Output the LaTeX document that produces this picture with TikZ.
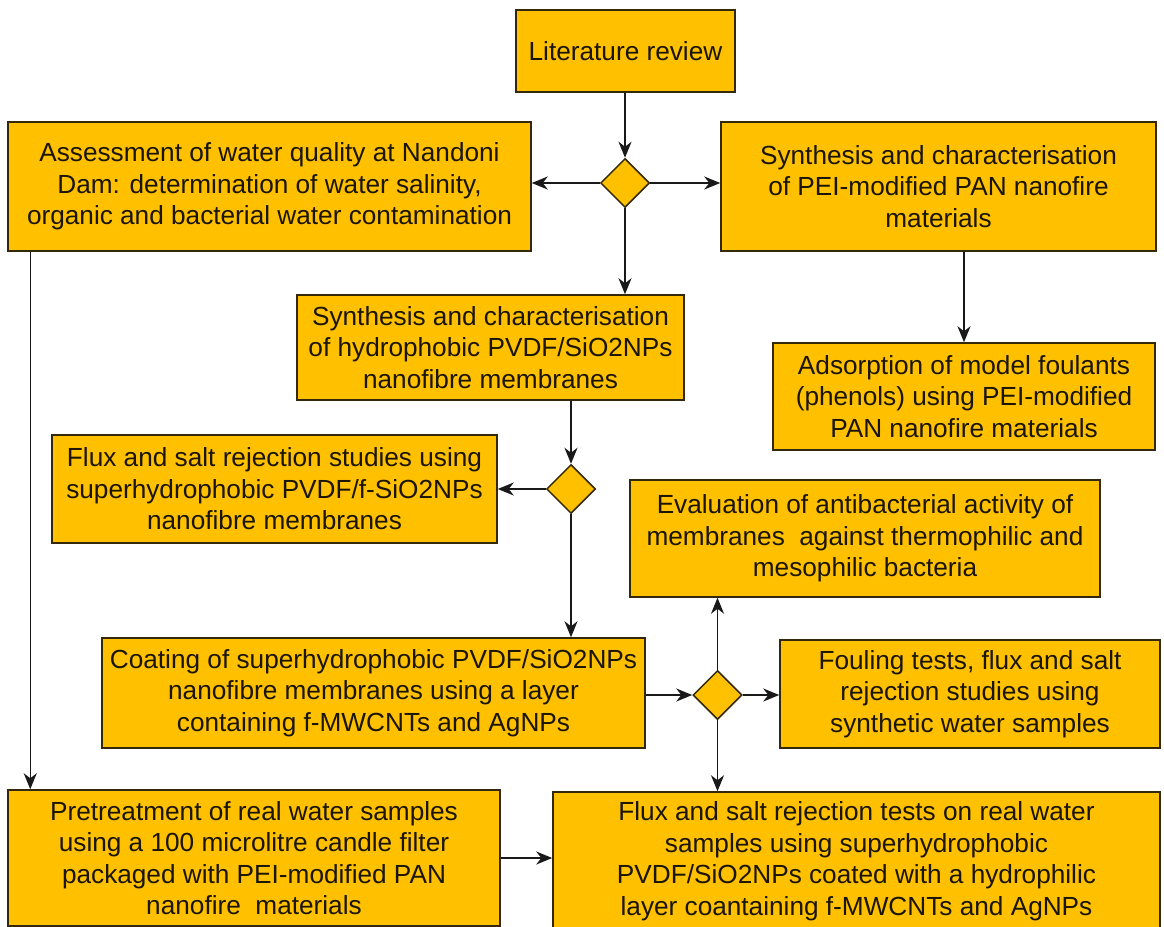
\documentclass[tikz,border=0pt]{standalone}
\usepackage{fontspec}
\setmainfont{Liberation Sans}
\usetikzlibrary{shapes.geometric,arrows.meta,calc}
\definecolor{boxfill}{HTML}{FFC000}
\definecolor{boxline}{HTML}{33290A}
\definecolor{txt}{HTML}{1A1505}
\tikzset{
  stepbox/.style={draw=boxline, line width=1.5pt, fill=boxfill, text=txt,
    align=center, inner sep=0pt,
    font=\fontsize{26.2pt}{31.5pt}\selectfont},
  decision/.style={draw=boxline, line width=1.5pt, fill=boxfill, diamond,
    minimum width=49pt, minimum height=49pt, inner sep=0pt, aspect=1},
  arr/.style={draw=black!90, line width=1.5pt, -{Stealth[length=16pt,width=13pt,inset=5pt]}},
}
\begin{document}
\begin{tikzpicture}[x=1pt,y=-1pt]
\useasboundingbox (0,0) rectangle (1164,926);
\clip (0,0) rectangle (1164,926);
\fill[white] (0,0) rectangle (1164,926);

\node[stepbox, minimum width=219pt, minimum height=82pt] (lit) at (625.5,51) {Literature review};
\node[decision] (d1) at (625,183) {};
\node[stepbox, minimum width=523pt, minimum height=129pt] (assess) at (269.5,186.5)
  {Assessment of water quality at Nandoni\\Dam: determination of water salinity,\\organic and bacterial water contamination};
\node[stepbox, minimum width=435pt, minimum height=129pt] (pei) at (938.5,186.5)
  {Synthesis and characterisation\\of PEI-modified PAN nanofire\\materials};
\node[stepbox, minimum width=387pt, minimum height=105pt] (pvdf) at (490.5,347.5)
  {Synthesis and characterisation\\of hydrophobic PVDF/SiO2NPs\\nanofibre membranes};
\node[stepbox, minimum width=382pt, minimum height=107pt] (ads) at (964,396.5)
  {Adsorption of model foulants\\(phenols) using PEI-modified\\PAN nanofire materials};
\node[decision] (d2) at (571,489) {};
\node[stepbox, minimum width=445pt, minimum height=108pt] (fluxl) at (274.5,489)
  {Flux and salt rejection studies using\\superhydrophobic PVDF/f-SiO2NPs\\nanofibre membranes};
\node[stepbox, minimum width=470pt, minimum height=117pt] (eval) at (865,538.5)
  {Evaluation of antibacterial activity of\\membranes\ \ against thermophilic and\\mesophilic bacteria};
\node[stepbox, minimum width=543pt, minimum height=110pt] (coat) at (373.5,693)
  {Coating of superhydrophobic PVDF/SiO2NPs\\nanofibre membranes using a layer\\containing f-MWCNTs and AgNPs};
\node[decision] (d3) at (717.5,695) {};
\node[stepbox, minimum width=380pt, minimum height=108pt] (foul) at (970,694)
  {Fouling tests, flux and salt\\rejection studies using\\synthetic water samples};
\node[stepbox, minimum width=492pt, minimum height=136pt] (pre) at (254,858)
  {Pretreatment of real water samples\\using a 100 microlitre candle filter\\packaged with PEI-modified PAN\\nanofire\ \ materials};
\node[stepbox, minimum width=607pt, minimum height=138pt] (real) at (856.5,861)
  {Flux and salt rejection tests on real water\\samples using superhydrophobic\\PVDF/SiO2NPs coated with a hydrophilic\\layer coantaining f-MWCNTs and AgNPs};

\draw[arr] (d1.north |- lit.south) -- (d1.north);
\draw[arr] (d1.west) -- (d1.west -| assess.east);
\draw[arr] (d1.east) -- (d1.east -| pei.west);
\draw[arr] (d1.south) -- (d1.south |- pvdf.north);
\draw[arr] (ads.north |- pei.south) -- (ads.north);
\draw[arr] (d2.north |- pvdf.south) -- (d2.north);
\draw[arr] (d2.west) -- (d2.west -| fluxl.east);
\draw[arr] (d2.south) -- (d2.south |- coat.north);
\draw[arr] (coat.east |- d3.west) -- (d3.west);
\draw[arr] (d3.east) -- (d3.east -| foul.west);
\draw[arr] (d3.north) -- (d3.north |- eval.south);
\draw[arr] (d3.south) -- (d3.south |- real.north);
\draw[arr] ($(assess.south west)+(23,0)$) -- ($(pre.north west)+(23,0)$);
\draw[arr] (pre.east) -- (pre.east -| real.west);
\end{tikzpicture}
\end{document}
